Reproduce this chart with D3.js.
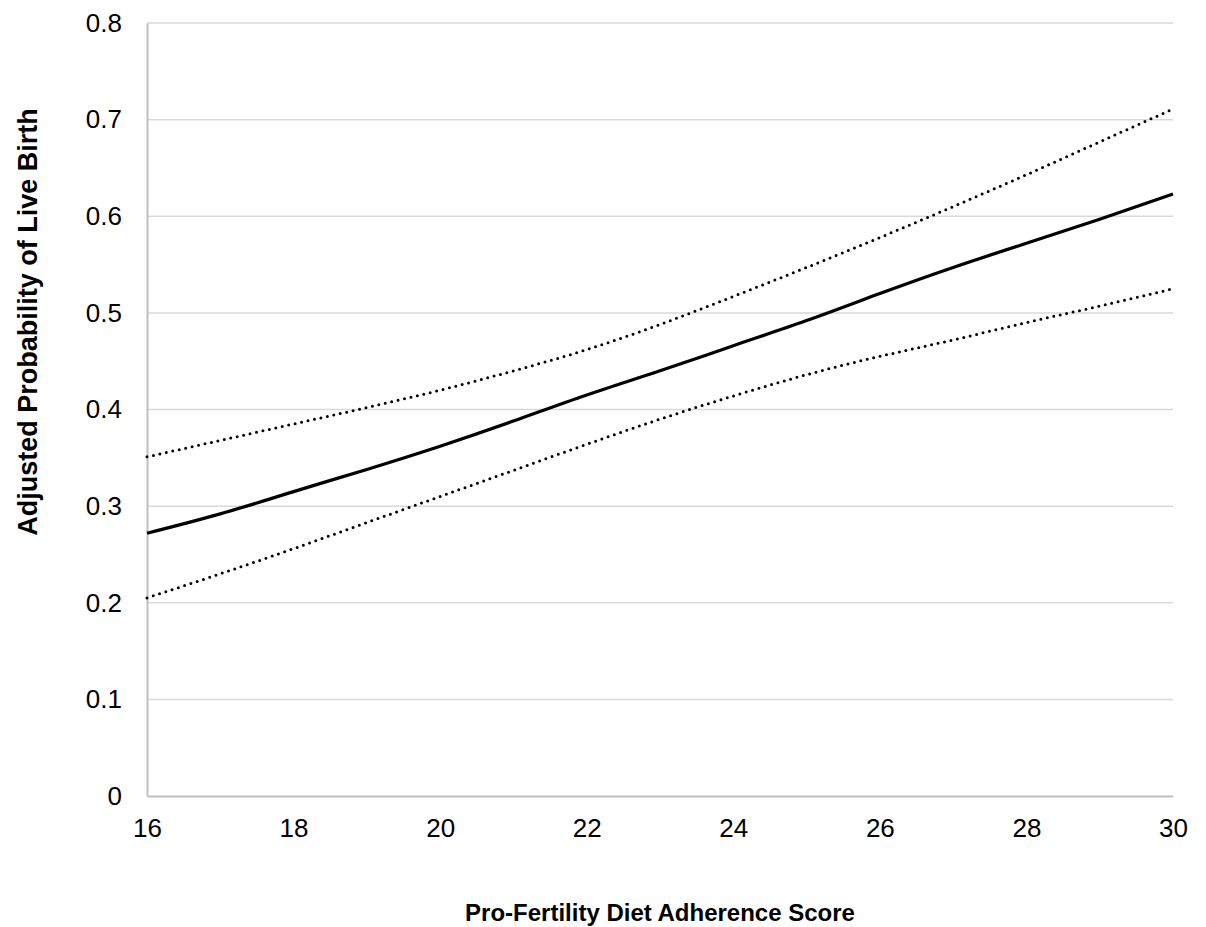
<!DOCTYPE html>
<html><head><meta charset="utf-8">
<script src="https://cdn.jsdelivr.net/npm/d3@7"></script>
<style>body{margin:0;background:#fff}svg{display:block}text{font-family:"Liberation Sans",Arial,sans-serif}</style>
</head><body>
<svg id="c" width="1206" height="927"></svg>
<script>
const scores = [16,17,18,19,20,21,22,23,24,25,26,27,28,29,30];
const estimate = [0.272,0.292,0.315,0.338,0.362,0.388,0.415,0.440,0.466,0.492,0.520,0.547,0.572,0.597,0.623];
const upperCI = [0.351,0.368,0.385,0.402,0.420,0.440,0.462,0.488,0.517,0.547,0.578,0.610,0.643,0.677,0.711];
const lowerCI = [0.205,0.230,0.256,0.283,0.310,0.337,0.364,0.390,0.414,0.436,0.455,0.472,0.490,0.507,0.525];
const xTicks = [16,18,20,22,24,26,28,30];
const yTicks = [0,0.1,0.2,0.3,0.4,0.5,0.6,0.7,0.8];

const svg = d3.select("#c");
const x = d3.scaleLinear().domain([16,30]).range([147,1173]);
const y = d3.scaleLinear().domain([0,0.8]).range([796,23]);

// gridlines
svg.append("g").selectAll("line").data(yTicks.filter(d=>d>0)).join("line")
  .attr("x1",x(16)).attr("x2",x(30)).attr("y1",d=>y(d)).attr("y2",d=>y(d))
  .attr("stroke","#d9d9d9").attr("stroke-width",1.5);

// axes
const ya = svg.append("g").attr("transform",`translate(${x(16)},0)`)
  .call(d3.axisLeft(y).tickValues(yTicks).tickFormat(d=>d===0?"0":d3.format(".1f")(d)).tickSize(0).tickPadding(25));
ya.select(".domain").attr("stroke","#bfbfbf").attr("stroke-width",2);
ya.selectAll("text").style("font-size","26px").attr("fill","#000");

const xa = svg.append("g").attr("transform",`translate(0,${y(0)})`)
  .call(d3.axisBottom(x).tickValues(xTicks).tickSize(0).tickPadding(23));
xa.select(".domain").attr("stroke","#bfbfbf").attr("stroke-width",2);
xa.selectAll("text").style("font-size","26px").attr("fill","#000");

const line = d3.line().x((d,i)=>x(scores[i])).y(d=>y(d)).curve(d3.curveNatural);

svg.append("path").datum(upperCI).attr("d",line).attr("fill","none")
  .attr("stroke","#000").attr("stroke-width",3).attr("stroke-linecap","round").attr("stroke-dasharray","0,6.6");
svg.append("path").datum(lowerCI).attr("d",line).attr("fill","none")
  .attr("stroke","#000").attr("stroke-width",3).attr("stroke-linecap","round").attr("stroke-dasharray","0,6.6");
svg.append("path").datum(estimate).attr("d",line).attr("fill","none")
  .attr("stroke","#000").attr("stroke-width",3.2);

svg.append("text").attr("x",660).attr("y",921).attr("text-anchor","middle")
  .style("font-size","24px").attr("font-weight","bold").text("Pro-Fertility Diet Adherence Score");
svg.append("text").attr("transform","translate(37,322) rotate(-90)").attr("text-anchor","middle")
  .style("font-size","27px").attr("font-weight","bold").text("Adjusted Probability of Live Birth");
</script>
</body></html>
